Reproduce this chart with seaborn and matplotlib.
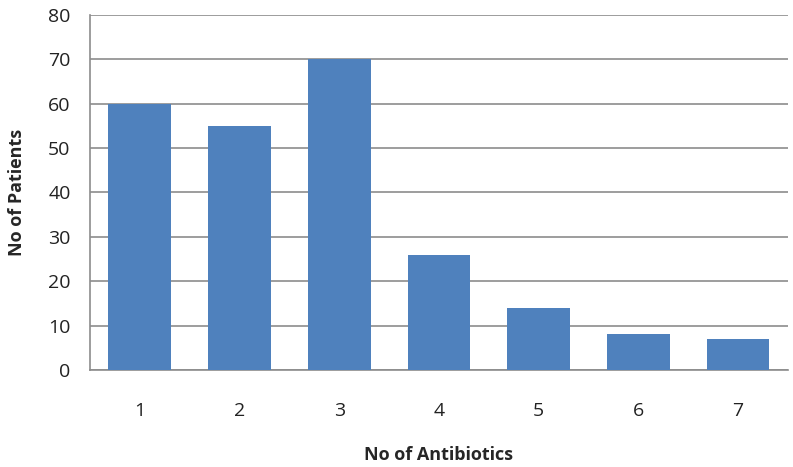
import matplotlib
matplotlib.use("Agg")
import matplotlib.pyplot as plt
import pandas as pd
import seaborn as sns

antibiotics = ["1", "2", "3", "4", "5", "6", "7"]
patients = [60, 55, 70, 26, 14, 8, 7]

df = pd.DataFrame({"antibiotics": antibiotics, "patients": patients})

sns.set_theme(style="white")
plt.rcParams["font.family"] = ["Open Sans", "DejaVu Sans"]

fig = plt.figure(figsize=(7.93, 4.67), dpi=100)
ax = fig.add_axes([0.1135, 0.2077, 0.880, 0.7603])

sns.barplot(data=df, x="antibiotics", y="patients", color="#4F81BD",
            saturation=1, width=0.63, linewidth=0, ax=ax, zorder=3)

ax.set_ylim(0, 80)
ax.set_yticks(range(0, 81, 10))
ax.yaxis.grid(True, color="#8C8C8C", linewidth=1.2, zorder=0)
ax.set_axisbelow(True)
for side in ("top", "right"):
    ax.spines[side].set_visible(False)
for side in ("left", "bottom"):
    ax.spines[side].set_color("#8C8C8C")
    ax.spines[side].set_linewidth(1.2)

ax.tick_params(axis="both", length=0, labelsize=14, colors="#222222")
ax.tick_params(axis="x", pad=23)
ax.tick_params(axis="y", pad=14)

ax.set_xlabel("No of Antibiotics", fontsize=13, fontweight="bold", labelpad=19)
ax.set_ylabel("No of Patients", fontsize=13, fontweight="bold", labelpad=16)

fig.savefig("out.png", dpi=100)
